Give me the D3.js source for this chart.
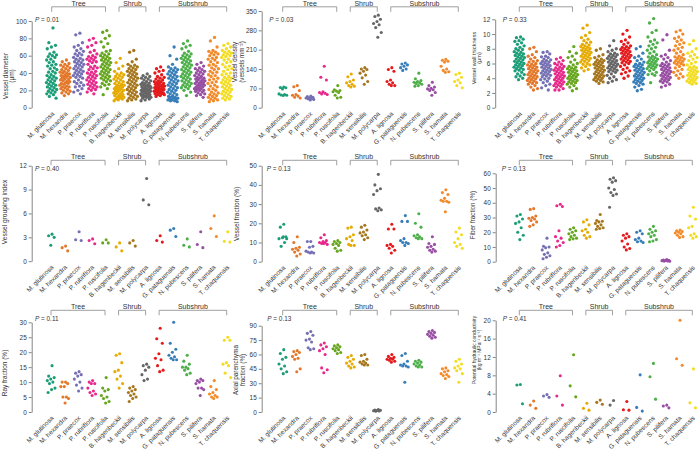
<!DOCTYPE html>
<html><head><meta charset="utf-8">
<script src="https://cdn.jsdelivr.net/npm/d3@7"></script>
<style>
body{margin:0;background:#fff}
svg{display:block}
text{font-family:"Liberation Sans",Arial,Helvetica,sans-serif;fill:#333}
</style>
</head><body>
<svg id="chart" width="700" height="455"></svg>
<script>
const species = ["M. glutinosa","M. hexandra","P. praecox","P. rubriflora","P. ruscifolia","B. hagenbeckii","M. sensibilis","M. polycarpa","A. lignosa","G. pataguensis","N. pubescens","S. pilifera","S. hamata","T. chaquensis"];
const groupNames = ["Tree","Shrub","Subshrub"];
const groupFirst = [0,5,8];
const groupLast = [4,7,13];
const colors = ["#1b9e77","#e3782a","#7570b3","#e7298a","#66a61e","#e6ab02","#a6761d","#666666","#e41a1c","#377eb8","#4daf4a","#984ea3","#f38a2a","#f2dd22"];

const vesselDiameter = [
 [92,75,72,70,68,64,62,61,60,59,58,56,55,53,52,50,49,48,46,45,44,42,41,40,38,37,36,35,34,33,32,31,30,29,28,27,26,25,24,23,22,21,20,19,18,17,16,15,13,11],
 [55,53,51,50,49,48,47,46,45,44,43,42,41,40,40,39,38,37,37,36,35,35,34,33,33,32,31,31,30,29,28,28,27,26,25,24,24,23,22,21,20,19,18,17,16,14],
 [86,84,75,72,70,68,66,65,63,62,61,60,58,57,56,55,54,53,52,51,50,49,48,47,46,45,44,43,42,41,40,39,38,37,36,35,34,32,30,29,28,26,25,24,22,20,18,16],
 [80,78,75,72,70,66,64,62,60,59,58,57,56,55,54,53,52,50,48,47,46,45,44,42,41,40,39,38,37,36,35,34,33,32,31,30,29,28,27,26,25,24,23,22,21,20,18,16],
 [89,87,83,80,76,74,70,66,65,63,62,61,60,59,58,57,56,55,54,53,52,51,50,49,48,47,46,45,44,43,42,41,40,39,38,37,36,35,34,33,32,31,30,28,27,26,24,22,15],
 [57,52,48,45,42,40,39,38,37,36,35,34,33,32,31,30,29,28,27,26,26,25,24,24,23,22,22,21,20,20,19,18,18,17,16,16,15,14,14,13,12,12,11,10,10,9,8],
 [66,64,56,53,50,49,48,47,46,45,44,43,42,41,40,39,38,37,36,35,34,33,32,31,30,29,28,27,26,25,24,23,22,21,20,19,18,17,16,15,14,13,12,11,10,9,8],
 [39,37,36,35,34,33,32,31,30,29,28,28,27,26,26,25,25,24,24,23,23,22,22,21,21,20,20,19,19,18,18,17,17,16,16,15,15,14,14,13,13,12,12,11,10,9,8],
 [47,45,43,42,40,38,36,35,34,33,32,31,30,30,29,28,28,27,26,26,25,25,24,24,23,23,22,22,21,21,20,20,19,19,18,18,17,17,16,16,15,15,14,13],
 [70,60,56,50,47,46,45,44,43,42,41,40,39,38,37,36,35,34,33,32,31,30,29,28,27,26,25,24,23,22,21,20,19,18,17,16,15,14,13,12,12,11,11,10,10,9,9,8,8,7],
 [77,74,72,70,68,65,63,62,61,60,59,58,57,56,55,54,53,52,51,50,49,48,47,46,45,44,43,42,41,40,39,38,37,36,35,34,33,32,31,30,29,28,27,26,25,24,23,22,20,18,14],
 [52,50,48,46,45,44,43,42,41,40,39,38,37,36,35,34,34,33,32,32,31,30,30,29,28,28,27,26,26,25,24,24,23,22,22,21,20,20,19,18,17,16,15,14,12],
 [81,77,70,66,65,64,63,62,61,60,58,57,56,55,53,52,50,49,48,46,45,44,42,41,40,38,37,36,34,33,32,30,29,28,26,25,24,22,21,20,18,17,16,15,14,13,12,11,10,9,8,7],
 [74,72,70,68,66,65,64,63,62,61,60,59,58,56,55,53,52,50,48,47,45,44,42,40,39,38,36,35,34,33,32,31,30,29,28,27,26,25,24,23,22,21,20,19,18,17,16,15,14,13,12,11,10,9]
];
const vesselDensity = [
 [75,73,72,68,50,48,46,45,44],
 [80,76,62,48,45,42,38,35],
 [42,40,38,36,35,33,32,30,28],
 [150,110,100,58,55,52,50,48],
 [80,65,62,60,58,55,45,38,35],
 [122,112,100,95,90,85,80,78,75],
 [145,140,138,132,125,118,108,95,85],
 [335,330,320,312,305,300,290,272,255],
 [145,138,132,100,95,90,85,80,80],
 [162,158,155,150,145,140,135],
 [125,105,98,95,92,90,88,85,80,78],
 [92,80,75,70,68,65,62,55,45],
 [175,172,168,165,150,140,135,130,128],
 [125,120,110,100,95,90,80,72]
];
const vesselWallThickness = [
 [9.6,9.5,9.3,9.1,9.0,8.8,8.6,8.4,8.2,8.0,7.9,7.8,7.6,7.5,7.4,7.3,7.2,7.1,7.0,6.9,6.8,6.7,6.6,6.5,6.4,6.3,6.2,6.1,6.0,5.9,5.8,5.7,5.6,5.5,5.4,5.3,5.2,5.1,5.0,4.8,4.6,4.5,4.3,4.2,4.0,3.8],
 [8.2,8.0,7.6,7.2,7.0,6.8,6.6,6.4,6.3,6.2,6.0,5.9,5.8,5.7,5.6,5.5,5.4,5.3,5.2,5.1,5.0,4.9,4.8,4.7,4.6,4.5,4.4,4.3,4.2,4.1,4.0,3.9,3.8,3.7,3.6,3.5,3.4,3.3,3.2,3.0,2.8,2.6,2.4],
 [7.6,7.5,7.3,7.0,6.9,6.8,6.6,6.5,6.4,6.3,6.2,6.1,6.0,5.9,5.8,5.7,5.6,5.5,5.4,5.3,5.2,5.1,5.0,4.9,4.8,4.7,4.6,4.5,4.4,4.3,4.2,4.0,3.9,3.8,3.6,3.4,3.2,3.0,2.7,2.4],
 [6.8,6.6,6.4,6.2,6.0,5.9,5.8,5.6,5.5,5.4,5.3,5.2,5.1,5.0,4.9,4.8,4.7,4.6,4.5,4.4,4.3,4.2,4.1,4.0,3.9,3.8,3.7,3.6,3.5,3.4,3.3,3.2,3.1,3.0,2.9,2.8,2.6,2.4,2.4],
 [8.3,7.6,7.4,7.0,6.8,6.5,6.2,6.0,5.8,5.6,5.5,5.4,5.3,5.2,5.1,5.0,4.9,4.8,4.7,4.6,4.5,4.4,4.3,4.2,4.1,4.0,3.9,3.8,3.7,3.6,3.5,3.4,3.3,3.2,3.0,2.8,2.6,2.3],
 [11.2,10.8,10.2,9.8,9.5,9.3,9.1,8.9,8.8,8.6,8.5,8.4,8.3,8.2,8.1,8.0,7.9,7.8,7.7,7.6,7.5,7.4,7.3,7.2,7.1,7.0,6.9,6.8,6.7,6.6,6.5,6.4,6.3,6.2,6.0,5.9,5.8,5.6,5.4,5.2,5.0],
 [8.0,7.8,7.2,7.0,6.8,6.6,6.5,6.4,6.3,6.2,6.1,6.0,5.9,5.8,5.7,5.6,5.5,5.4,5.3,5.2,5.1,5.0,4.9,4.8,4.7,4.6,4.5,4.4,4.3,4.2,4.1,4.0,3.9,3.8,3.7,3.6,3.5,3.3],
 [9.1,8.4,8.0,7.8,7.6,7.4,7.3,7.2,7.1,7.0,6.9,6.8,6.7,6.6,6.5,6.4,6.3,6.2,6.1,6.0,5.9,5.8,5.7,5.6,5.5,5.4,5.3,5.2,5.1,5.0,4.9,4.8,4.6,4.4,4.2,4.0,3.8,3.6,3.4],
 [10.5,10.0,9.6,9.2,9.0,8.8,8.6,8.4,8.3,8.2,8.1,8.0,7.9,7.8,7.7,7.6,7.5,7.4,7.3,7.2,7.1,7.0,6.9,6.8,6.7,6.6,6.5,6.4,6.3,6.2,6.1,6.0,5.8,5.6,5.4,5.2,5.0,4.8,4.6,4.3,4.0],
 [8.3,8.0,7.4,7.0,6.8,6.6,6.4,6.2,6.0,5.9,5.8,5.7,5.6,5.5,5.4,5.3,5.2,5.1,5.0,4.9,4.8,4.7,4.6,4.5,4.4,4.3,4.2,4.1,4.0,3.9,3.8,3.7,3.6,3.5,3.4,3.3,3.2,3.0,2.8,2.5,2.3],
 [12.1,11.5,10.5,10.2,9.6,9.2,9.0,8.8,8.6,8.4,8.2,8.0,7.8,7.6,7.4,7.2,7.0,6.9,6.8,6.7,6.6,6.5,6.4,6.3,6.2,6.1,6.0,5.9,5.8,5.7,5.6,5.5,5.4,5.3,5.2,5.0,4.8,4.6,4.5,4.4,3.4],
 [9.9,9.2,7.8,7.2,7.0,6.8,6.6,6.4,6.2,6.0,5.9,5.8,5.7,5.6,5.5,5.4,5.3,5.2,5.1,5.0,4.9,4.8,4.7,4.6,4.5,4.4,4.3,4.2,4.1,4.0,3.9,3.8,3.7,3.6,3.5,3.4,3.2,3.0,2.8],
 [10.5,10.3,10.0,9.6,9.4,9.2,9.0,8.8,8.6,8.4,8.2,8.0,7.8,7.6,7.4,7.2,7.0,6.9,6.8,6.7,6.6,6.5,6.4,6.3,6.2,6.1,6.0,5.9,5.8,5.6,5.4,5.2,5.0,4.8,4.6,4.4,4.2,4.0],
 [9.1,8.6,8.0,7.6,7.4,7.2,7.0,6.8,6.6,6.4,6.2,6.0,5.8,5.6,5.5,5.4,5.3,5.2,5.1,5.0,4.9,4.8,4.7,4.6,4.5,4.4,4.3,4.2,4.1,4.0,3.9,3.8,3.7,3.6,3.5,3.4,3.3,3.2]
];
const vesselGroupingIndex = [
 [3.4,3.2,3.0,2.0],[1.9,1.7,1.3],[3.7,2.7,2.6],[2.8,2.6,2.2],[2.7,2.3,2.3],
 [2.3,1.8,1.3],[2.6,2.3,1.9],[10.4,7.7,7.1],[3.2,2.6,2.4],[4.1,3.9,3.1],
 [2.8,2.0,1.8],[3.7,2.1,1.7],[5.7,4.1,3.1],[3.7,2.5,2.4]
];
const vesselFraction = [
 [19.5,18,13,12.5,12,10,8,12,13],
 [13,10,7.5,7,6.5,6,5,4,3],
 [10.5,10.5,8,7.5,5.5,5,5,4.5,4.5],
 [14,12.5,11,10.5,10,10,9.5,9,9.5],
 [11,10.5,10,9.5,9,8.5,7,6,5.5],
 [18,17.5,14,13,12,11,9,8.5,8.5],
 [19,18,16.5,15.5,15,14,13.5,12.5,11.5],
 [45.5,40,38,37,35,28,27.5,27,26.5],
 [19.5,17,17,9,8.5,8,7,6,4.5],
 [24,21,21,12,11,10,10,9.5,8.5],
 [25,20,18,14,13.5,13,12.5,12,12],
 [13,9.5,9,8,7.5,6.5,6,5.5,5],
 [37.5,36,35,33,32,31.5,31.5,31,26],
 [17.5,15.5,14,12,10,9,8,7]
];
const fiberFraction = [
 [32,31,29,27,26,23,20,18,15],
 [36,35.5,31,30,29.5,29,28,27,25,24],
 [16,10.5,10,9.5,8,6,5,4,3,2],
 [39,38,37.5,21,17,16,14,13,11,10],
 [23,22,21,20,19,18,17,16,15.5,15],
 [28.5,27,25,22,21,20,18,17,16],
 [32,28,27.5,27,26,25,24,23,22.5,22],
 [57,56,55,54,50,49,47,46,45,37],
 [19,18,17,16,14,12,10,9,8],
 [21,20,19,16,15,14,13.5,13],
 [24,22,21,20,19,18,17,15,14,13.5],
 [1.5,1.2,1,0.8,0.7,0.5,0.4,0.3],
 [21.5,21,20.5,20,19.5,19,18,17,16.5],
 [37,31,29,24,23,19,18,17,16]
];
const rayFraction = [
 [15.5,12,11.5,11,10.5,10,9.5,8,7.5,6.5],
 [10,10,9.5,8.5,8.5,5,5,4.5,3],
 [13.5,13,12.5,12,11,10,9,8,7],
 [10.5,10,9.5,9.5,8,7,6.5,6,5.5],
 [11.5,8,7.5,7,5.5,5,4.5,3.5,3],
 [19.5,19,16.5,14,13.5,12,11,9.5,8],
 [8.5,8,7.5,7,6.5,6,5.5,5,4.5,3.5],
 [16,15.5,15,14,12.5,11,10.5],
 [28,24.5,23,19.5,18,17.5,15.5,14,13.5],
 [30,23,21,20,19,18.5,18,17.5,17.5],
 [19,17,16,15,15,14.5,14,13,12.5],
 [11,10.5,10.5,10,9.5,8,8,7.5,5.5],
 [10.5,8.5,7.5,6.5,6,5.5,5,5,4.5],
 [25,24,24,16.5,16,15.5,13,11.5]
];
const axialParenchymaFraction = [
 [65,61,57,55,50,48,45,42,40],
 [64,63,62,60,58,56,55,45,42],
 [84,82,80,76,75,73,67,66,65],
 [72,70,68,66,64,60,46,44,41],
 [70,69,68,67,66,65,64,62,61],
 [59,57,55,53,51,50,48,47,46],
 [60,59,55,53,52,51,50,49,49],
 [2.5,2,1.8,1.5,1.3,1,0.8],
 [60,58,57,56,55,55,54,53,52],
 [61,59,53,50,49,48,48,47,31],
 [54,53,52,51,50,49,48,47,47],
 [85,84,83,82,81,80,79,78,77],
 [46,45,43,42,40,39,38,37,35],
 [55,53,50,48,46,45,43,40,31]
];
const hydraulicConductivity = [
 [6.0,5.9,1.8],[2.4,1.5,0.8],[3.8,3.5,3.2],[7.9,3.5,1.5],[12.5,5.7,3.3],
 [1.9,0.8,0.4],[2.6,2.1,1.7],[2.5,1.5],[2.3,0.5,0.4],[8.1,1.0,0.2],
 [10.6,7.7,2.8],[1.5,1.3,0.9],[20,11.6,10.2],[9.4,2.0,0.9]
];

const vdTicks = [0,20,40,60,80,100];
const densTicks = [0,70,140,210,280,350];
const wallTicks = [0,2,4,6,8,10,12];
const groupTicks = [0,3,6,9,12];
const vfTicks = [0,10,20,30,40,50];
const ffTicks = [0,10,20,30,40,50,60];
const rfTicks = [0,5,10,15,20,25,30];
const apTicks = [0,15,30,45,60,75,90];
const hcTicks = [0,4,8,12,16,20];

// layout (not data)
const rowBracketY = [6.8, 160.3, 310.3];
const rowPY = [22, 171.2, 320.6];
const panels = [
 {data:vesselDiameter, ticks:vdTicks, title:["Vessel diameter","(µm)"], p:"0.01", row:0, ax:31.7, top:21, bottom:107.7, c1:51.7, c2:226.7, px:35, tx:7.5, ty:76, tfs:6.5, jit:5.4, dense:true},
 {data:vesselDensity, ticks:densTicks, title:["Vessel density","(vessels mm⁻²)"], p:"0.03", row:0, ax:261.7, top:11, bottom:107.7, c1:282.7, c2:458.3, px:269.3, tx:237, ty:62, tfs:6.3, jit:4.5},
 {data:vesselWallThickness, ticks:wallTicks, title:["Vessel wall thickness","(µm)"], p:"0.33", row:0, ax:495.2, top:19.3, bottom:107.7, c1:519.3, c2:692.3, px:502.7, tx:475.5, ty:58, tfs:5.6, jit:5.4, dense:true},
 {data:vesselGroupingIndex, ticks:groupTicks, title:["Vessel grouping index"], p:"0.40", row:1, ax:31.7, top:165.7, bottom:261.2, c1:51, c2:226.7, px:35, tx:7, ty:212, tfs:6.6, jit:4.5},
 {data:vesselFraction, ticks:vfTicks, title:["Vessel fraction (%)"], p:"0.13", row:1, ax:261.7, top:165.7, bottom:261.7, c1:282.7, c2:458.3, px:266.7, tx:238.8, ty:214, tfs:6.5, jit:4.5},
 {data:fiberFraction, ticks:ffTicks, title:["Fiber fraction (%)"], p:"0.13", row:1, ax:495.7, top:173.3, bottom:261.7, c1:519.3, c2:692.3, px:501.7, tx:475.2, ty:215, tfs:6.3, jit:4.5},
 {data:rayFraction, ticks:rfTicks, title:["Ray fraction (%)"], p:"0.11", row:2, ax:31.7, top:322.3, bottom:412, c1:51, c2:226.7, px:35, tx:7, ty:373, tfs:6.5, jit:4.5},
 {data:axialParenchymaFraction, ticks:apTicks, title:["Axial parenchyma","fraction (%)"], p:"0.13", row:2, ax:261.7, top:325.7, bottom:412, c1:282.7, c2:458.3, px:267.3, tx:238, ty:370, tfs:6.3, jit:4.5},
 {data:hydraulicConductivity, ticks:hcTicks, title:["Potential hydraulic conductivity","(kg m⁻¹ MPa⁻¹ s⁻¹)"], p:"0.41", row:2, ax:495.7, top:320.3, bottom:412, c1:519.3, c2:692.3, px:502.7, tx:475.5, ty:350, tfs:5.0, jit:4.5}
];

const svg = d3.select("#chart");
const jitter = (i) => (((i + 1) * 0.6180339887) % 1) - 0.5;

panels.forEach(P => {
  const g = svg.append("g");
  const maxT = P.ticks[P.ticks.length - 1];
  const y = d3.scaleLinear().domain([0, maxT]).range([P.bottom, P.top]);
  const x = d3.scalePoint().domain(species).range([P.c1, P.c2]);

  const ya = g.append("g").attr("transform", `translate(${P.ax},0)`)
    .call(d3.axisLeft(y).tickValues(P.ticks).tickSize(3).tickSizeOuter(0).tickPadding(2));
  ya.select(".domain").attr("stroke", "#666").attr("stroke-width", 0.8);
  ya.selectAll(".tick line").attr("stroke", "#666").attr("stroke-width", 0.8);
  ya.selectAll(".tick text").attr("font-size", 6.4).attr("fill", "#2a2a2a")
    .style("font-family", '"Liberation Sans",Arial,sans-serif');

  const xa = g.append("g").attr("transform", `translate(0,${P.bottom})`)
    .call(d3.axisBottom(x).tickSize(0));
  xa.select(".domain").remove();
  xa.selectAll(".tick text")
    .attr("x", 0).attr("y", 0).attr("dy", 0)
    .attr("transform", "translate(2.5,6.5) rotate(-45)")
    .style("text-anchor", "end")
    .attr("font-size", 6.5).attr("fill", "#2a2a2a")
    .style("font-family", '"Liberation Sans",Arial,sans-serif');

  const pts = [];
  P.data.forEach((vals, si) => vals.forEach((v, i) => pts.push({s: si, v: v, j: jitter(i)})));
  g.append("g").selectAll("circle").data(pts).join("circle")
    .attr("cx", d => x(species[d.s]) + d.j * 2 * P.jit)
    .attr("cy", d => y(d.v))
    .attr("r", P.dense ? 1.65 : 1.55)
    .attr("fill", d => colors[d.s]);

  const by = rowBracketY[P.row];
  groupNames.forEach((name, k) => {
    const x1 = x(species[groupFirst[k]]), x2 = x(species[groupLast[k]]);
    g.append("path")
      .attr("d", `M${x1},${by + 5}V${by}H${x2}V${by + 5}`)
      .attr("fill", "none").attr("stroke", "#888").attr("stroke-width", 0.8);
    g.append("text").attr("x", (x1 + x2) / 2).attr("y", by - 1.2)
      .attr("text-anchor", "middle").attr("font-size", 7).attr("fill", "#2a2a2a").text(name);
  });

  const pt = g.append("text").attr("x", P.px).attr("y", rowPY[P.row]).attr("font-size", 6.4).attr("fill", "#2a2a2a");
  pt.append("tspan").attr("font-style", "italic").text("P");
  pt.append("tspan").text(" = " + P.p);

  const tt = g.append("text")
    .attr("transform", `translate(${P.tx},${P.ty}) rotate(-90)`)
    .attr("text-anchor", "middle").attr("font-size", P.tfs).attr("fill", "#2a2a2a");
  P.title.forEach((line, k) => {
    tt.append("tspan").attr("x", 0).attr("dy", k === 0 ? 0 : P.tfs * 1.05).text(line);
  });
});
</script>
</body></html>
